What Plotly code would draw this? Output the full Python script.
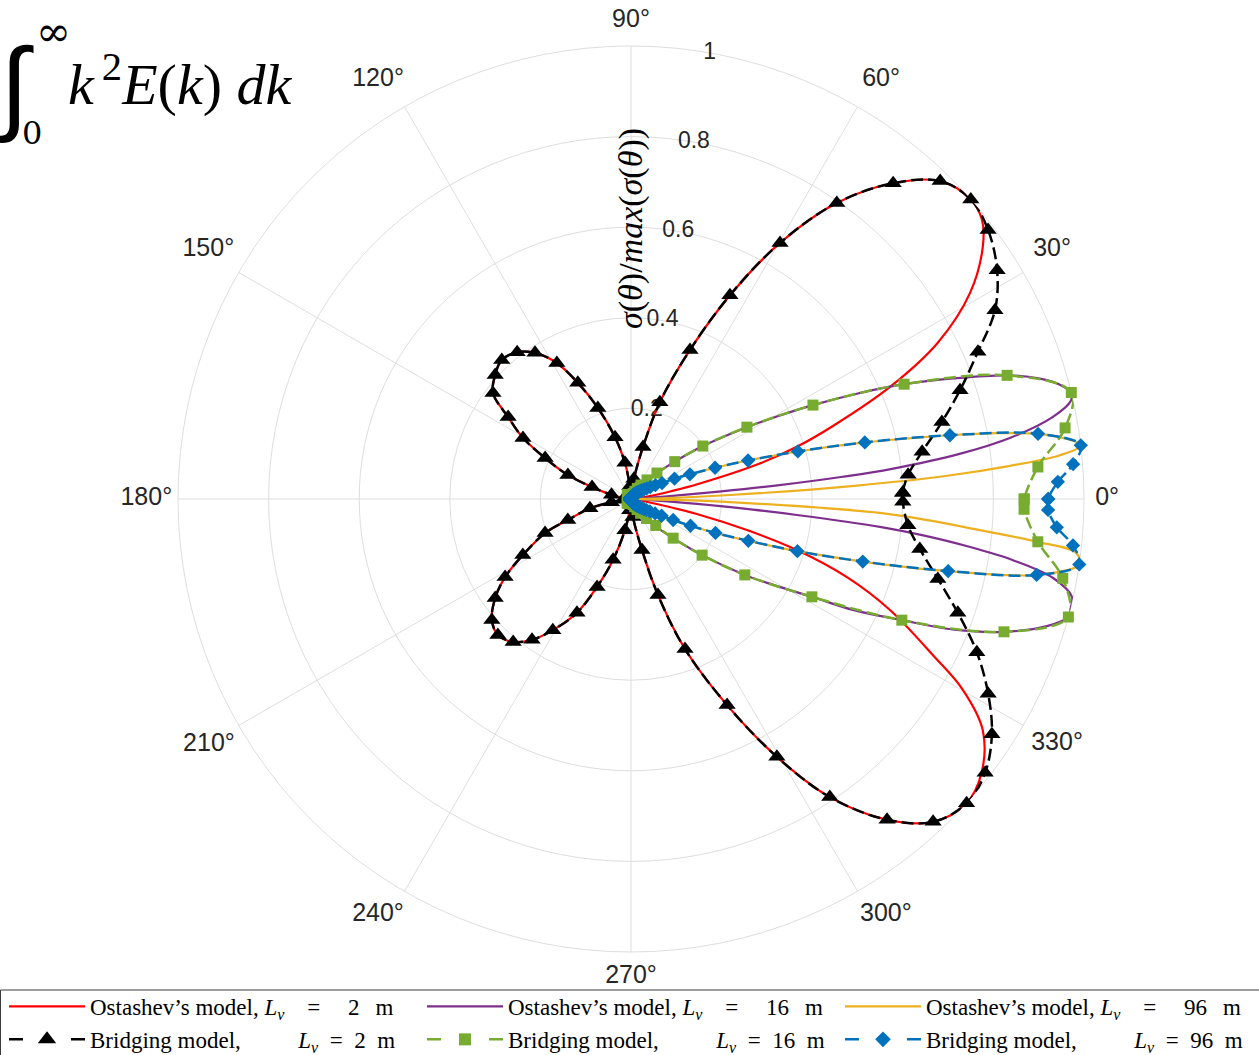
import plotly.graph_objects as go

# ---------------- data (angles in degrees, normalised cross-section) ----------------
# Ostashev's model, L_v = 2 m
theta_ost2 = [0, 4.5, 9.0, 11.0, 12.5, 15.3, 17.5, 19.9, 23.4, 27.0,
              31.3, 35.6, 38.5, 41.4, 45.8, 50.3, 55.2, 59.8, 64.1, 68.4,
              73.4, 77.0, 81.7, 86.2, 90.0, 95.3, 99.5, 104.5, 110.0, 114.6,
              118.6, 123.3, 127.8, 132.9, 137.6, 142.5, 146.3, 150.5, 154.5, 159.2,
              162.9, 167.9, 172.4, 180.0, 186.5, 189.5, 192.8, 198.4, 201.6, 207.4,
              211.8, 216.1, 221.0, 225.6, 230.5, 234.9, 239.2, 244.6, 248.9, 253.6,
              259.0, 263.5, 270.0, 276.3, 282.2, 285.7, 289.8, 295.0, 299.5, 303.7,
              308.6, 313.1, 317.8, 322.0, 326.7, 330.1, 332.6, 336.8, 340.1, 342.9,
              345.0, 347.2, 349.1, 352.5, 356.0, 360.0]
r_ost2 = [0, 0.008, 0.045, 0.09, 0.15, 0.29, 0.385, 0.475, 0.623, 0.76,
          0.876, 0.955, 0.99, 1.0, 0.979, 0.906, 0.796, 0.654, 0.500, 0.354,
          0.223, 0.118, 0.045, 0.010, 0.0, 0.028, 0.081, 0.141, 0.214, 0.282,
          0.342, 0.386, 0.410, 0.419, 0.406, 0.384, 0.326, 0.274, 0.210, 0.149,
          0.090, 0.044, 0.015, 0.0, 0.015, 0.044, 0.093, 0.147, 0.204, 0.269,
          0.327, 0.371, 0.407, 0.420, 0.409, 0.380, 0.337, 0.278, 0.208, 0.140,
          0.070, 0.025, 0.0, 0.040, 0.115, 0.220, 0.352, 0.502, 0.654, 0.791,
          0.906, 0.976, 1.0, 0.982, 0.929, 0.845, 0.752, 0.622, 0.507, 0.383,
          0.265, 0.149, 0.058, 0.012, 0.002, 0]

# Ostashev's model, L_v = 16 m
theta_ost16 = [0, 3.0, 4.3, 4.8, 5.3, 6.0, 6.6, 7.8, 9.2, 11.0,
               12.6, 13.6, 14.9, 16.4, 18.2, 20.5, 22.8, 25.0, 27.3, 29.5,
               31.8, 36.4, 40.5, 45.0, 50.0, 55.0, 60.0, 67.0, 75.0, 85.0,
               90.0, 110.0, 135.0, 160.0, 180.0, 200.0, 225.0, 250.0, 270.0, 275.0,
               285.0, 293.0, 300.0, 305.0, 311.6, 317.1, 321.7, 326.3, 329.0, 331.6,
               333.5, 335.9, 338.0, 340.4, 343.0, 344.9, 346.2, 347.5, 349.4, 350.9,
               352.0, 352.9, 353.6, 354.5, 355.0, 355.7, 357.0, 360.0]
r_ost16 = [0, 0.02, 0.08, 0.2, 0.32, 0.47, 0.58, 0.73, 0.85, 0.948,
           0.995, 1.0, 0.98, 0.941, 0.874, 0.76, 0.654, 0.55, 0.452, 0.37,
           0.301, 0.197, 0.127, 0.081, 0.052, 0.034, 0.022, 0.012, 0.005, 0.001,
           0, 0.003, 0.005, 0.002, 0, 0.002, 0.005, 0.003, 0, 0.002,
           0.008, 0.02, 0.034, 0.05, 0.08, 0.127, 0.20, 0.302, 0.37, 0.454,
           0.55, 0.655, 0.77, 0.874, 0.96, 1.0, 1.0, 0.997, 0.948, 0.854,
           0.75, 0.65, 0.553, 0.368, 0.27, 0.146, 0.02, 0]

# Ostashev's model, L_v = 96 m
theta_ost96 = [0, 1.2, 2.3, 3.4, 4.2, 5.0, 5.8, 6.8, 8.0, 9.1,
               10.2, 11.3, 12.4, 13.6, 15.9, 18.2, 20.4, 22.7, 25.0, 27.2,
               31.8, 36.3, 40.8, 45.4, 50.0, 55.0, 60.0, 70.0, 80.0, 90.0,
               135.0, 180.0, 225.0, 270.0, 280.0, 290.0, 300.0, 305.0, 310.0, 314.6,
               319.2, 323.7, 328.2, 331.3, 333.5, 335.8, 338.1, 340.4, 342.6, 344.9,
               347.2, 349.4, 351.7, 353.1, 354.0, 354.9, 355.9, 356.8, 357.8, 358.8,
               360.0]
r_ost96 = [0, 0.05, 0.22, 0.50, 0.70, 0.84, 0.95, 1.0, 0.965, 0.91,
           0.82, 0.718, 0.62, 0.531, 0.383, 0.272, 0.198, 0.141, 0.106, 0.077,
           0.05, 0.036, 0.027, 0.021, 0.017, 0.013, 0.011, 0.006, 0.002, 0,
           0.001, 0, 0.001, 0, 0.002, 0.006, 0.011, 0.013, 0.017, 0.021,
           0.027, 0.036, 0.05, 0.077, 0.104, 0.144, 0.201, 0.275, 0.385, 0.530,
           0.718, 0.911, 1.0, 0.99, 0.90, 0.773, 0.66, 0.55, 0.30, 0.1,
           0]

# Bridging model, L_v = 2 m (one marker per sample)
theta_br2 = [1.3, 5.0, 9.2, 13.9, 18.3, 23.0, 27.4, 32.0, 37.0, 41.4,
             45.8, 50.3, 55.2, 59.8, 64.1, 68.4, 73.4, 77.0, 81.7, 86.2,
             90.8, 95.3, 99.5, 104.5, 110.0, 114.6, 118.6, 123.3, 127.8, 132.9,
             137.6, 142.5, 146.3, 150.5, 154.5, 159.2, 162.9, 167.9, 172.4, 177.0,
             181.5, 186.5, 189.5, 192.8, 198.4, 201.6, 207.4, 211.8, 216.1, 221.0,
             225.6, 230.5, 234.9, 239.2, 244.6, 248.9, 253.6, 259.0, 263.5, 267.7,
             272.3, 276.3, 282.2, 285.7, 289.8, 295.0, 299.5, 303.7, 308.6, 313.1,
             317.8, 322.3, 326.9, 331.4, 336.1, 340.8, 345.4, 350.2, 354.6, 359.4]
r_br2 = [0.600, 0.614, 0.651, 0.707, 0.765, 0.832, 0.905, 0.953, 0.987, 1.000,
         0.979, 0.906, 0.796, 0.654, 0.500, 0.354, 0.223, 0.118, 0.045, 0.010,
         0.002, 0.028, 0.081, 0.141, 0.214, 0.282, 0.342, 0.386, 0.410, 0.419,
         0.406, 0.384, 0.326, 0.274, 0.210, 0.149, 0.090, 0.044, 0.015, 0.002,
         0.002, 0.015, 0.044, 0.093, 0.147, 0.204, 0.269, 0.327, 0.371, 0.407,
         0.420, 0.409, 0.380, 0.337, 0.278, 0.208, 0.140, 0.070, 0.025, 0.004,
         0.002, 0.040, 0.115, 0.220, 0.352, 0.502, 0.654, 0.791, 0.906, 0.976,
         1.000, 0.988, 0.951, 0.898, 0.835, 0.764, 0.700, 0.647, 0.614, 0.600]

# Bridging model, L_v = 16 m
theta_br16 = [0.0, 4.5, 9.3, 13.6, 18.2, 22.8, 27.3, 31.8, 36.4, 40.5,
              45.0, 49.9, 54.5, 59.0, 63.5, 68.1, 72.6, 77.1, 81.7, 86.2,
              90.8, 95.3, 99.8, 104.4, 108.9, 113.5, 118.0, 122.5, 127.1, 131.6,
              136.1, 140.7, 145.2, 149.8, 154.3, 158.8, 163.4, 167.9, 172.4, 177.0,
              181.5, 186.1, 190.6, 195.1, 199.7, 204.2, 208.7, 213.3, 217.8, 222.4,
              226.9, 231.4, 236.0, 240.5, 245.1, 249.6, 254.1, 258.7, 263.2, 267.7,
              272.3, 276.8, 281.4, 285.9, 290.4, 295.0, 299.5, 304.0, 308.6, 313.1,
              317.1, 321.7, 326.3, 331.6, 335.9, 340.4, 344.9, 349.6, 354.0, 358.5]
r_br16 = [0.868, 0.901, 0.971, 1.0, 0.874, 0.654, 0.452, 0.301, 0.197, 0.127,
          0.081, 0.055, 0.038, 0.027, 0.019, 0.013, 0.009, 0.005, 0.003, 0.001,
          0.0, 0.002, 0.004, 0.006, 0.008, 0.010, 0.011, 0.012, 0.012, 0.012,
          0.011, 0.010, 0.008, 0.006, 0.004, 0.003, 0.002, 0.001, 0.0, 0.0,
          0.0, 0.0, 0.001, 0.002, 0.003, 0.004, 0.006, 0.008, 0.010, 0.011,
          0.012, 0.012, 0.012, 0.011, 0.010, 0.008, 0.006, 0.004, 0.002, 0.0,
          0.001, 0.003, 0.005, 0.009, 0.013, 0.019, 0.027, 0.038, 0.055, 0.08,
          0.127, 0.20, 0.302, 0.454, 0.655, 0.874, 1.0, 0.969, 0.903, 0.868]

# Bridging model, L_v = 96 m
theta_br96 = [0.0, 2.3, 4.5, 6.8, 9.1, 11.3, 13.6, 15.9, 18.2, 20.4,
              22.7, 25.0, 27.2, 29.5, 31.8, 34.0, 36.3, 38.6, 40.8, 43.1,
              45.4, 47.6, 49.9, 52.2, 54.5, 56.7, 59.0, 61.3, 63.5, 65.8,
              68.1, 70.3, 72.6, 74.9, 77.1, 79.4, 81.7, 84.0, 86.2, 88.5,
              90.8, 93.0, 95.3, 97.6, 99.8, 102.1, 104.4, 106.6, 108.9, 111.2,
              113.5, 115.7, 118.0, 120.3, 122.5, 124.8, 127.1, 129.3, 131.6, 133.9,
              136.1, 138.4, 140.7, 142.9, 145.2, 147.5, 149.8, 152.0, 154.3, 156.6,
              158.8, 161.1, 163.4, 165.6, 167.9, 170.2, 172.4, 174.7, 177.0, 179.3,
              181.5, 183.8, 186.1, 188.3, 190.6, 192.9, 195.1, 197.4, 199.7, 201.9,
              204.2, 206.5, 208.7, 211.0, 213.3, 215.6, 217.8, 220.1, 222.4, 224.6,
              226.9, 229.2, 231.4, 233.7, 236.0, 238.2, 240.5, 242.8, 245.1, 247.3,
              249.6, 251.9, 254.1, 256.4, 258.7, 260.9, 263.2, 265.5, 267.7, 270.0,
              272.3, 274.5, 276.8, 279.1, 281.4, 283.6, 285.9, 288.2, 290.4, 292.7,
              295.0, 297.2, 299.5, 301.8, 304.0, 306.3, 308.6, 310.9, 313.1, 315.4,
              317.7, 319.9, 322.2, 324.5, 326.7, 329.0, 331.3, 333.5, 335.8, 338.1,
              340.4, 342.6, 344.9, 347.2, 349.4, 351.7, 354.0, 356.2, 358.5]
r_br96 = [0.921, 0.943, 0.979, 1.0, 0.910, 0.718, 0.531, 0.383, 0.272, 0.198,
          0.141, 0.106, 0.077, 0.062, 0.050, 0.042, 0.036, 0.031, 0.027, 0.024,
          0.021, 0.019, 0.017, 0.015, 0.013, 0.012, 0.011, 0.009, 0.008, 0.007,
          0.006, 0.005, 0.004, 0.003, 0.003, 0.002, 0.001, 0.001, 0.0005, 0.0002,
          0.0, 0.0003, 0.0006, 0.001, 0.0013, 0.0016, 0.0019, 0.0021, 0.0023, 0.0025,
          0.0026, 0.0027, 0.0028, 0.0028, 0.0028, 0.0027, 0.0026, 0.0025, 0.0023, 0.0021,
          0.0019, 0.0017, 0.0015, 0.0013, 0.0011, 0.0009, 0.0007, 0.0005, 0.0004, 0.0003,
          0.0002, 0.0001, 0.0001, 0.0, 0.0, 0.0, 0.0, 0.0, 0.0, 0.0,
          0.0, 0.0, 0.0, 0.0, 0.0, 0.0, 0.0001, 0.0001, 0.0002, 0.0003,
          0.0004, 0.0005, 0.0007, 0.0009, 0.0011, 0.0013, 0.0015, 0.0017, 0.0019, 0.0021,
          0.0023, 0.0025, 0.0026, 0.0027, 0.0028, 0.0028, 0.0028, 0.0027, 0.0026, 0.0025,
          0.0023, 0.0021, 0.0019, 0.0016, 0.0013, 0.001, 0.0006, 0.0003, 0.0001, 0.0,
          0.0005, 0.001, 0.001, 0.002, 0.003, 0.003, 0.004, 0.005, 0.006, 0.007,
          0.008, 0.009, 0.011, 0.012, 0.013, 0.015, 0.017, 0.019, 0.021, 0.024,
          0.027, 0.031, 0.036, 0.042, 0.050, 0.062, 0.077, 0.104, 0.144, 0.201,
          0.275, 0.385, 0.530, 0.718, 0.911, 1.0, 0.981, 0.942, 0.921]

radial_ticks = [0.2, 0.4, 0.6, 0.8, 1.0]
radial_tick_text = ["0.2", "0.4", "0.6", "0.8", "1"]
angle_ticks = [0, 30, 60, 90, 120, 150, 180, 210, 240, 270, 300, 330]
angle_tick_text = [f"{a}°" for a in angle_ticks]
# where each angle label's centre sits (direction, and distance in units of the outer ring)
angle_label_theta = [0, 30.6, 59.2, 90, 121.1, 149.5, 180, 210.2, 238.7, 270, 301.5, 330.1]
angle_label_radius = [1.051, 1.08, 1.078, 1.055, 1.081, 1.083,
                      1.07, 1.078, 1.075, 1.055, 1.077, 1.085]

LV_WIDE = "<i>L</i><sub><i>v</i></sub>\u2003=\u2003\u2009"
LV_TIGHT = "<i>L</i><sub><i>v</i></sub>\u2002=\u2002"
legend_names = [
    "Ostashev’s model, " + LV_WIDE + "2\u2002\u2009m",
    "Ostashev’s model, " + LV_WIDE + "16\u2002\u2009m",
    "Ostashev’s model, " + LV_WIDE + "96\u2002\u2009m",
    "Bridging model,\u2003\u2003\u2002" + LV_TIGHT + "2\u2002m",
    "Bridging model,\u2003\u2003\u2002" + LV_TIGHT + "16\u2002m",
    "Bridging model,\u2003\u2003\u2002" + LV_TIGHT + "96\u2002m",
]

# ---------------- styling ----------------
W, H = 1259, 1055
GRID = "#dedede"
TXT = "#262626"
RED, PURPLE, YELLOW = "#FF0000", "#7E2F8E", "#EDB120"
BLACK, GREEN, BLUE = "#000000", "#77AC30", "#0072BD"
DASH = "12px,5px"
SANS = "Liberation Sans, Arial"
SERIF = "Liberation Serif, Times New Roman"
LABEL_RANGE = 1.1   # radial extent of the transparent frame that carries the angle labels


def closed(t, r):
    return list(t) + [t[0]], list(r) + [r[0]]


fig = go.Figure()

# radial tick labels along the 80 degree spoke, underneath the curves
fig.add_trace(go.Scatterpolar(
    r=radial_ticks, theta=[80] * len(radial_ticks), mode="text",
    text=radial_tick_text, textposition="middle center",
    textfont=dict(family=SANS, size=23, color=TXT),
    showlegend=False, hoverinfo="skip", cliponaxis=False))

solid = [(theta_ost2, r_ost2, RED), (theta_ost16, r_ost16, PURPLE),
         (theta_ost96, r_ost96, YELLOW)]
for i, (t, r, c) in enumerate(solid):
    fig.add_trace(go.Scatterpolar(
        r=r, theta=t, mode="lines", name=legend_names[i],
        line=dict(color=c, width=2.2, shape="spline", smoothing=1.0),
        cliponaxis=False, hoverinfo="skip"))

dashed = [(theta_br2, r_br2, BLACK, "triangle-up", 15),
          (theta_br16, r_br16, GREEN, "square", 11),
          (theta_br96, r_br96, BLUE, "diamond", 11)]
for i, (t, r, c, sym, sz) in enumerate(dashed):
    tt, rr = closed(t, r)
    fig.add_trace(go.Scatterpolar(
        r=rr, theta=tt, mode="lines+markers", name=legend_names[3 + i],
        line=dict(color=c, width=2.5, dash=DASH, shape="spline", smoothing=1.0),
        marker=dict(symbol=sym, size=sz, color=c, line=dict(width=0)),
        cliponaxis=False, hoverinfo="skip", showlegend=False))

# legend keys for the bridging curves: "dash  marker  dash"
for i, (t, r, c, sym, sz) in enumerate(dashed):
    fig.add_trace(go.Scatterpolar(
        r=[None], theta=[None], mode="lines+markers", name=legend_names[3 + i],
        line=dict(color=c, width=2.5, dash="14px,48px"),
        marker=dict(symbol=sym, size=sz + 1, color=c, line=dict(width=0)),
        hoverinfo="skip"))

# angle labels round the rim, on a concentric transparent frame
fig.add_trace(go.Scatterpolar(
    r=angle_label_radius, theta=angle_label_theta, mode="text", subplot="polar2",
    text=angle_tick_text, textposition="middle center",
    textfont=dict(family=SANS, size=25, color=TXT),
    showlegend=False, hoverinfo="skip", cliponaxis=False))

# polar frame: circle radius 453 px centred at (631, 499)
cx, cy, R = 631, 499, 453
R2 = R * LABEL_RANGE
fig.update_layout(
    width=W, height=H, autosize=False,
    margin=dict(l=0, r=0, t=0, b=0, autoexpand=False),
    paper_bgcolor="white",
    polar=dict(
        domain=dict(x=[(cx - R) / W, (cx + R) / W],
                    y=[1 - (cy + R) / H, 1 - (cy - R) / H]),
        bgcolor="white",
        radialaxis=dict(range=[0, 1], tickvals=radial_ticks, showticklabels=False,
                        ticks="", showline=False, gridcolor=GRID, gridwidth=1,
                        angle=80, layer="below traces"),
        angularaxis=dict(direction="counterclockwise", rotation=0,
                         tickmode="array", tickvals=angle_ticks, showticklabels=False,
                         ticks="", showline=True, linecolor=GRID, linewidth=1,
                         gridcolor=GRID, gridwidth=1, layer="below traces"),
    ),
    polar2=dict(
        domain=dict(x=[(cx - R2) / W, (cx + R2) / W],
                    y=[1 - (cy + R2) / H, 1 - (cy - R2) / H]),
        bgcolor="rgba(0,0,0,0)",
        radialaxis=dict(range=[0, LABEL_RANGE], visible=False, showgrid=False),
        angularaxis=dict(direction="counterclockwise", rotation=0, visible=False,
                         showgrid=False, showline=False),
    ),
    legend=dict(orientation="h", x=4 / W, xanchor="left", y=1 - 985 / H, yanchor="top",
                bgcolor="rgba(0,0,0,0)", borderwidth=0,
                font=dict(family=SERIF, size=23, color="black"),
                itemwidth=76, entrywidth=327, entrywidthmode="pixels",
                tracegroupgap=0),
    # legend frame (runs off the bottom and right edges)
    shapes=[dict(type="rect", xref="paper", yref="paper",
                 x0=0.5 / W, x1=1.02, y0=1 - 990 / H, y1=-0.05,
                 line=dict(color="#3c3c3c", width=1), fillcolor="white", layer="below")],
)


def px(x, y):
    return x / W, 1 - y / H


ann = []
# radial axis title
x0, y0 = px(631, 229)
ann.append(dict(x=x0, y=y0, xref="paper", yref="paper", showarrow=False,
                text="<i>σ</i>(<i>θ</i>)/<i>max</i>(<i>σ</i>(<i>θ</i>))", textangle=-90,
                font=dict(family=SERIF, size=34, color="black"),
                xanchor="center", yanchor="middle"))
# integral expression in the corner
x0, y0 = px(14, 86)
ann.append(dict(x=x0, y=y0, xref="paper", yref="paper", showarrow=False, text="∫",
                font=dict(family="Liberation Sans, Arial", size=104, color="black"),
                xanchor="center", yanchor="middle"))
x0, y0 = px(53, 32)
ann.append(dict(x=x0, y=y0, xref="paper", yref="paper", showarrow=False, text="∞",
                font=dict(family="DejaVu Serif", size=42, color="black"),
                xanchor="center", yanchor="middle"))
x0, y0 = px(32, 133)
ann.append(dict(x=x0, y=y0, xref="paper", yref="paper", showarrow=False, text="0",
                font=dict(family="DejaVu Serif", size=32, color="black"),
                xanchor="center", yanchor="middle"))
x0, y0 = px(66, 80)
ann.append(dict(x=x0, y=y0, xref="paper", yref="paper", showarrow=False,
                text="<i>k</i><sup>\u20092</sup><i>E</i>(<i>k</i>) <i>dk</i>",
                font=dict(family=SERIF, size=58, color="black"),
                xanchor="left", yanchor="middle"))
fig.update_layout(annotations=ann)

fig.write_html("out.html")
